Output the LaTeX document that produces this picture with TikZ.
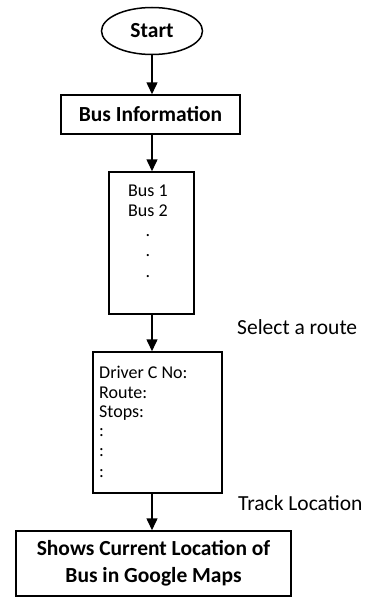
\documentclass[tikz,border=0pt]{standalone}
\usepackage{fontspec}
\setmainfont{Carlito}
\usetikzlibrary{shapes.geometric,arrows.meta}
\begin{document}
\begin{tikzpicture}[x=1pt,y=1pt,
  box/.style={draw,line width=1.5pt,inner sep=0pt},
  arr/.style={line width=1.5pt,-{Triangle[width=11pt,length=12pt]}},
  txt/.style={inner sep=0pt,font=\fontsize{18}{20}\selectfont},
  lbl/.style={inner sep=0pt,font=\fontsize{21.5}{24}\selectfont},
  btxt/.style={inner sep=0pt,font=\fontsize{21.5}{27}\selectfont\bfseries}]
\useasboundingbox (0,0) rectangle (369,-597);
% flowchart blocks
\node[box,ellipse,minimum width=101pt,minimum height=47pt,btxt] (start) at (152,-31) {Start};
\node[box,minimum width=179pt,minimum height=39pt,btxt] (info) at (150.5,-114.5) {Bus Information};
\node[box,minimum width=85pt,minimum height=142pt] (list) at (151.5,-243) {};
\node[box,minimum width=129pt,minimum height=141pt] (driver) at (157.5,-422.5) {};
\node[box,minimum width=275pt,minimum height=65pt,btxt,align=center] (shows) at (153.5,-563.5)
  {Shows Current Location of\\Bus in Google Maps};
% contents of the bus list
\node[txt,anchor=west] (b1) at (128,-191) {Bus 1};
\node[txt,anchor=west] (b2) at (128,-211) {Bus 2};
\node[txt] (d1) at (148,-236) {.};
\node[txt] (d2) at (148,-256) {.};
\node[txt] (d3) at (148,-277) {.};
% contents of the driver record
\node[txt,anchor=west] (r1) at (99,-372) {Driver C No:};
\node[txt,anchor=west] (r2) at (99,-393) {Route:};
\node[txt,anchor=west] (r3) at (99,-413) {Stops:};
\node[txt,anchor=west] (c1) at (99,-433) {:};
\node[txt,anchor=west] (c2) at (99,-453) {:};
\node[txt,anchor=west] (c3) at (99,-474) {:};
% step labels
\node[lbl,anchor=west] (sel) at (237,-327) {Select a route};
\node[lbl,anchor=west] (trk) at (238,-503) {Track Location};
% connectors
\draw[arr] (start.south) -- (start.south |- info.north);
\draw[arr] (start.south |- info.south) -- (start.south |- list.north);
\draw[arr] (start.south |- list.south) -- (start.south |- driver.north);
\draw[arr] (start.south |- driver.south) -- (start.south |- shows.north);
\end{tikzpicture}
\end{document}
